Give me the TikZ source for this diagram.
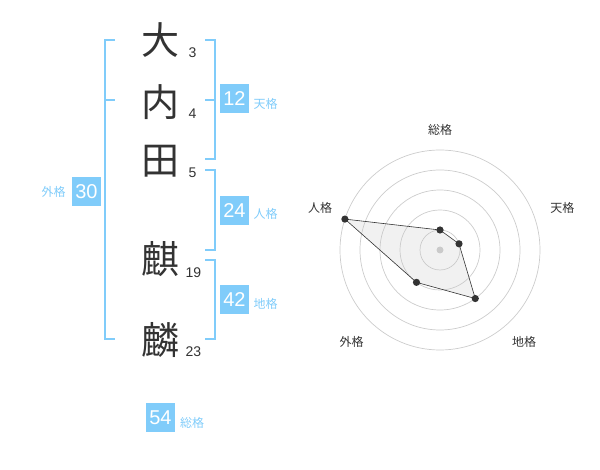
\documentclass[tikz,border=0pt]{standalone}
\usepackage{fontspec}
\setmainfont{Liberation Sans}
\newfontfamily\jpfont{Noto Sans CJK JP}
\usetikzlibrary{calc}
\definecolor{skyblue}{RGB}{128, 204, 250}
\definecolor{charcoal}{RGB}{51, 51, 51}
\definecolor{silver}{RGB}{204, 204, 204}
\definecolor{cloud}{RGB}{200, 200, 200}
\tikzset{
    namechar/.style   = {text=charcoal, font=\jpfont\fontsize{38}{38}\selectfont, inner sep=0pt},
    strokes/.style    = {text=charcoal, font=\fontsize{14}{14}\selectfont, anchor=base west, inner sep=0pt},
    scorebox/.style   = {fill=skyblue, text=white, font=\fontsize{20}{20}\selectfont, minimum size=29pt, inner sep=0pt},
    scorelabel/.style = {text=skyblue, font=\jpfont\fontsize{12}{12}\selectfont, anchor=west, inner sep=0pt},
    bracket/.style    = {draw=skyblue, line width=1.6pt},
    ring/.style       = {draw=silver, line width=0.7pt},
    axislabel/.style  = {text=charcoal, font=\jpfont\fontsize{12}{12}\selectfont, inner sep=0pt}
}
\begin{document}
\begin{tikzpicture}[x=1pt, y=-1pt]
            \useasboundingbox (0,0) rectangle (600,470);
            % name characters and stroke counts
            \node[namechar] (c1) at (160.5, 40.0) {大};
            \node[namechar] (c2) at (160.5,102.0) {内};
            \node[namechar] (c3) at (160.5,161.0) {田};
            \node[namechar] (c4) at (160.5,259.0) {麒};
            \node[namechar] (c5) at (160.5,340.0) {麟};
            \node[strokes]  (s1) at (188.5, 57.7) {3};
            \node[strokes]  (s2) at (188.5,118.3) {4};
            \node[strokes]  (s3) at (188.5,177.7) {5};
            \node[strokes]  (s4) at (185.5,277.3) {19};
            \node[strokes]  (s5) at (185.5,356.7) {23};
            % brackets
            \draw[bracket] (115, 40) -- (105, 40) -- (105,339) -- (115,339);
            \draw[bracket] (105,100) -- (115,100);
            \draw[bracket] (205, 40) -- (215, 40) -- (215,159) -- (205,159);
            \draw[bracket] (205,100) -- (215,100);
            \draw[bracket] (205,170) -- (215,170) -- (215,250) -- (205,250);
            \draw[bracket] (205,260) -- (215,260) -- (215,339) -- (205,339);
            % scores
            \node[scorebox]   (ten)  at (234.5, 98.5) {12};
            \node[scorelabel] (tenl) at (253.5,104.0) {天格};
            \node[scorebox]   (jin)  at (234.5,210.5) {24};
            \node[scorelabel] (jinl) at (253.5,214.0) {人格};
            \node[scorebox]   (chi)  at (234.5,300.0) {42};
            \node[scorelabel] (chil) at (253.5,303.5) {地格};
            \node[scorebox]   (gai)  at ( 86.5,191.5) {30};
            \node[scorelabel] (gail) at ( 41.5,192.0) {外格};
            \node[scorebox]   (sou)  at (160.5,417.5) {54};
            \node[scorelabel] (soul) at (180.0,423.0) {総格};
            % radar chart
            \coordinate (ctr) at (440,250);
            \foreach \r in {20,40,...,100}
                \draw[ring] (ctr) circle (\r pt);
            \fill[silver] (ctr) circle (3.5pt);
            \coordinate (psou) at ($(ctr)+(-90:20)$);
            \coordinate (pten) at ($(ctr)+(-18:20)$);
            \coordinate (pchi) at ($(ctr)+(54:60)$);
            \coordinate (pgai) at ($(ctr)+(126:40)$);
            \coordinate (pjin) at ($(ctr)+(198:100)$);
            \filldraw[draw=charcoal, fill=cloud, fill opacity=0.25, line width=0.6pt]
                (psou) -- (pten) -- (pchi) -- (pgai) -- (pjin) -- cycle;
            \foreach \p in {psou,pten,pchi,pgai,pjin}
                \fill[charcoal] (\p) circle (3.6pt);
            \node[axislabel] (asou) at (440.0,130.0) {総格};
            \node[axislabel] (aten) at (562.3,208.3) {天格};
            \node[axislabel] (ajin) at (320.0,208.3) {人格};
            \node[axislabel] (agai) at (351.7,341.7) {外格};
            \node[axislabel] (achi) at (524.0,341.7) {地格};
\end{tikzpicture}
\end{document}
